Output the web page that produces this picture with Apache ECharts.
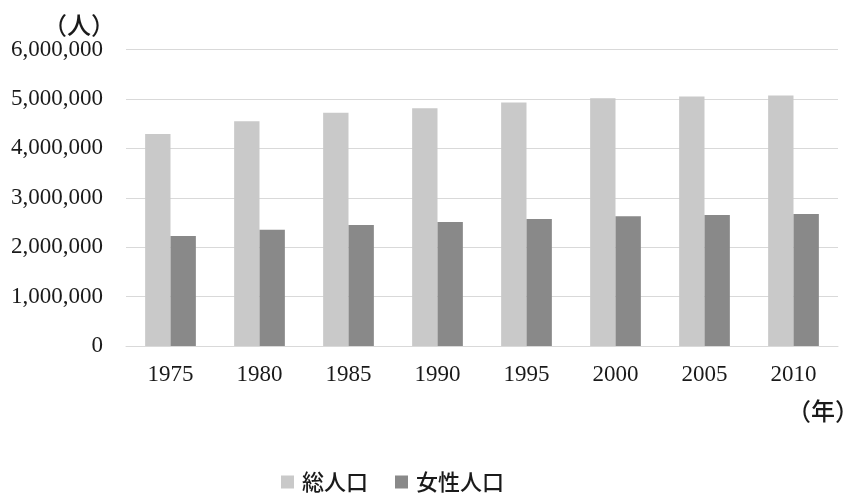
<!DOCTYPE html>
<html>
<head>
<meta charset="utf-8">
<script src="https://cdn.jsdelivr.net/npm/echarts@6/dist/echarts.min.js"></script>
<style>
html,body{margin:0;padding:0;background:#fff;}
#chart{width:849px;height:495px;}
</style>
</head>
<body>
<div id="chart"></div>
<script>
var categories = ['1975','1980','1985','1990','1995','2000','2005','2010'];
var totalPop = [4290000, 4550000, 4720000, 4810000, 4930000, 5015000, 5050000, 5070000];
var femalePop = [2225000, 2350000, 2450000, 2510000, 2570000, 2625000, 2652000, 2672000];
var seriesNames = ['総人口', '女性人口'];
var yUnit = '（人）';
var xUnit = '（年）';

var serif = '"Liberation Serif", "Times New Roman", serif';
var cjk = '"Noto Sans CJK JP", "Noto Sans", sans-serif';

var chart = echarts.init(document.getElementById('chart'), null, {renderer: 'canvas'});
chart.setOption({
  animation: false,
  backgroundColor: '#ffffff',
  grid: {left: 126, right: 11, top: 49.5, bottom: 149, containLabel: false},
  legend: {
    left: 276,
    top: 466,
    itemWidth: 13,
    itemHeight: 13,
    itemGap: 27,
    icon: 'rect',
    textStyle: {fontFamily: cjk, fontSize: 22, fontWeight: 500, color: '#1a1a1a', padding: [0,0,0,3]},
    data: seriesNames
  },
  xAxis: {
    type: 'category',
    data: categories,
    axisLine: {show: true, lineStyle: {color: '#d9d9d9', width: 1}},
    axisTick: {show: false},
    axisLabel: {fontFamily: serif, fontSize: 23, color: '#1a1a1a', margin: 17}
  },
  yAxis: {
    type: 'value',
    min: 0,
    max: 6000000,
    interval: 1000000,
    axisLine: {show: false},
    axisTick: {show: false},
    splitLine: {lineStyle: {color: '#d9d9d9', width: 1}},
    axisLabel: {
      fontFamily: serif, fontSize: 23, color: '#1a1a1a', margin: 23,
      formatter: function (v) { return v.toLocaleString('en-US'); }
    }
  },
  graphic: [
    {type: 'text', left: 43, top: 13, style: {text: yUnit, font: '500 24px ' + cjk, fill: '#1a1a1a'}},
    {type: 'text', left: 787, top: 399, style: {text: xUnit, font: '500 24px ' + cjk, fill: '#1a1a1a'}}
  ],
  series: [
    {name: seriesNames[0], type: 'bar', data: totalPop, barGap: '0%', barCategoryGap: '43%',
     itemStyle: {color: '#c9c9c9'}},
    {name: seriesNames[1], type: 'bar', data: femalePop, barGap: '0%', barCategoryGap: '43%',
     itemStyle: {color: '#898989'}}
  ]
});
</script>
</body>
</html>
